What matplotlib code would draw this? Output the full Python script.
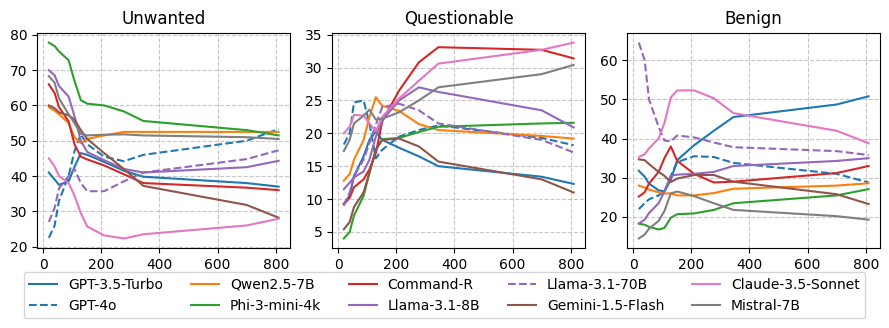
import matplotlib.pyplot as plt

# common x positions
x = [20, 40, 55, 88, 108, 130, 152, 210, 278, 345, 700, 810]

# Unwanted
unw_gpt35 = [41.0, 39.0, 37.5, 38.5, 42.5, 46.5, 46.0, 44.0, 41.5, 39.8, 38.0, 37.0]
unw_gpt4o = [22.5, 26.0, 33.0, 40.0, 47.0, 51.8, 49.0, 45.5, 44.2, 46.0, 50.0, 53.3]
unw_qwen = [59.5, 58.5, 57.5, 55.0, 51.0, 49.3, 50.5, 51.5, 52.5, 52.5, 52.5, 52.5]
unw_phi = [77.8, 76.8, 75.3, 72.8, 67.0, 61.5, 60.5, 60.0, 58.3, 55.6, 53.0, 51.5]
unw_cmdr = [66.0, 63.5, 59.5, 55.5, 49.0, 45.5, 44.7, 43.0, 40.5, 38.0, 36.7, 36.0]
unw_llama8 = [70.0, 68.5, 65.5, 62.5, 57.0, 50.0, 46.8, 44.5, 42.0, 41.0, 42.5, 44.3]
unw_llama70 = [27.0, 31.0, 36.5, 40.0, 42.0, 38.0, 35.7, 35.7, 38.5, 41.0, 44.8, 47.3]
unw_gemini = [60.0, 59.2, 58.0, 57.2, 56.0, 53.0, 50.5, 46.5, 42.0, 37.2, 31.8, 28.2]
unw_claude = [45.0, 42.7, 40.0, 38.0, 34.5, 29.5, 25.7, 23.2, 22.3, 23.5, 26.0, 27.9]
unw_mistral = [68.3, 66.4, 62.0, 57.5, 55.0, 52.0, 51.5, 51.7, 51.8, 51.5, 51.0, 50.5]

# Questionable
que_gpt35 = [9.3, 10.5, 13.5, 16.5, 19.0, 20.3, 19.0, 17.8, 16.5, 15.0, 13.4, 12.3]
que_gpt4o = [18.3, 20.0, 24.7, 25.0, 21.5, 16.2, 17.5, 19.5, 20.5, 21.2, 19.3, 18.2]
que_qwen = [12.8, 13.8, 16.0, 19.0, 22.5, 25.5, 24.2, 23.4, 21.4, 20.5, 19.6, 19.2]
que_phi = [4.0, 5.0, 7.5, 10.5, 14.0, 17.5, 19.1, 19.3, 20.2, 21.0, 21.5, 21.6]
que_cmdr = [9.2, 10.2, 11.8, 13.0, 14.5, 17.0, 21.8, 26.5, 30.8, 33.1, 32.7, 31.4]
que_llama8 = [11.5, 12.5, 13.3, 14.2, 16.0, 19.5, 22.0, 25.0, 27.0, 26.3, 23.5, 20.9]
que_llama70 = [9.0, 11.0, 13.5, 16.0, 18.5, 21.3, 24.0, 24.5, 23.5, 21.5, 19.0, 17.1]
que_gemini = [5.4, 6.5, 8.8, 11.0, 14.0, 17.5, 19.0, 19.2, 18.0, 15.7, 13.0, 11.0]
que_claude = [20.0, 21.0, 22.8, 22.7, 21.5, 20.3, 22.5, 25.3, 28.0, 30.6, 32.7, 33.8]
que_mistral = [17.3, 19.0, 21.5, 22.7, 23.6, 22.1, 22.2, 23.2, 25.0, 27.0, 29.0, 30.4]

# Benign
ben_gpt35 = [31.8, 30.3, 28.5, 26.8, 26.5, 29.5, 34.5, 38.3, 42.0, 45.5, 48.7, 50.8]
ben_gpt4o = [22.0, 23.5, 24.5, 25.5, 26.5, 30.5, 34.0, 35.5, 35.3, 33.8, 31.0, 28.8]
ben_qwen = [28.0, 27.5, 27.0, 26.3, 26.0, 26.0, 25.5, 25.5, 26.1, 27.2, 28.0, 28.6]
ben_phi = [18.3, 18.0, 17.5, 16.8, 17.2, 19.8, 20.7, 20.9, 21.8, 23.5, 25.5, 27.1]
ben_cmdr = [25.2, 26.3, 28.5, 31.5, 35.0, 38.0, 34.3, 31.0, 28.8, 29.0, 31.2, 33.0]
ben_llama8 = [18.3, 19.3, 21.0, 23.5, 26.5, 30.5, 30.8, 31.0, 31.5, 33.0, 34.3, 35.0]
ben_llama70 = [64.5, 60.0, 50.0, 43.0, 39.5, 39.3, 40.8, 40.3, 39.0, 37.8, 36.8, 35.8]
ben_gemini = [34.7, 34.5, 33.5, 31.5, 30.5, 28.9, 29.8, 30.7, 30.7, 29.0, 25.8, 23.3]
ben_claude = [35.3, 36.0, 37.5, 40.0, 44.0, 50.5, 52.3, 52.3, 50.3, 46.5, 42.0, 38.8]
ben_mistral = [14.5, 15.5, 17.0, 19.0, 21.5, 26.0, 26.5, 25.3, 23.5, 21.8, 20.2, 19.3]

models = ['GPT-3.5-Turbo', 'GPT-4o', 'Qwen2.5-7B', 'Phi-3-mini-4k', 'Command-R',
          'Llama-3.1-8B', 'Llama-3.1-70B', 'Gemini-1.5-Flash', 'Claude-3.5-Sonnet', 'Mistral-7B']
colors = ['C0', 'C0', 'C1', 'C2', 'C3', 'C4', 'C4', 'C5', 'C6', 'C7']
styles = ['-', '--', '-', '-', '-', '-', '--', '-', '-', '-']

panels = [
    ('Unwanted', [unw_gpt35, unw_gpt4o, unw_qwen, unw_phi, unw_cmdr, unw_llama8,
                  unw_llama70, unw_gemini, unw_claude, unw_mistral]),
    ('Questionable', [que_gpt35, que_gpt4o, que_qwen, que_phi, que_cmdr, que_llama8,
                      que_llama70, que_gemini, que_claude, que_mistral]),
    ('Benign', [ben_gpt35, ben_gpt4o, ben_qwen, ben_phi, ben_cmdr, ben_llama8,
                ben_llama70, ben_gemini, ben_claude, ben_mistral]),
]

fig, axs = plt.subplots(1, 3, figsize=(8.89, 3.28), dpi=100)
plt.subplots_adjust(left=0.042, right=0.99, top=0.90, bottom=0.243, wspace=0.167)

for ax, (title, series) in zip(axs, panels):
    for vals, name, c, ls in zip(series, models, colors, styles):
        ax.plot(x, vals, color=c, linestyle=ls, label=name)
    ax.set_title(title)
    ax.grid(True, linestyle='--', alpha=0.7)
    ax.set_xticks([0, 200, 400, 600, 800])

handles, labels = axs[0].get_legend_handles_labels()
fig.legend(handles, labels, loc='upper center', bbox_to_anchor=(0.5, 0.17),
           ncol=5, borderaxespad=0)

plt.savefig('out.png')
